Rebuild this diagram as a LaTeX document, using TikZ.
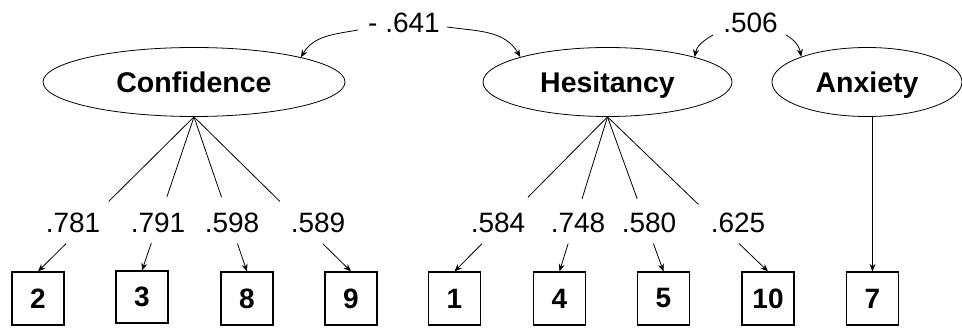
\documentclass[tikz,border=0pt]{standalone}
\usepackage{fontspec}
\setmainfont{Liberation Sans}
\usetikzlibrary{shapes.geometric,arrows.meta,calc}
\begin{document}
\begin{tikzpicture}[x=1pt,y=1pt,
  latent/.style={ellipse,draw,line width=0.8pt,inner sep=0pt,minimum height=69pt,text height=20.5pt,text depth=0pt,font=\fontsize{28.5}{30}\selectfont\bfseries},
  obs/.style={rectangle,draw,line width=1.1pt,inner sep=0pt,minimum width=52pt,minimum height=53pt,font=\fontsize{28}{30}\selectfont\bfseries},
  lbl/.style={inner sep=0pt,font=\fontsize{28}{30}\selectfont},
  ln/.style={line width=0.8pt},
  arr/.style={line width=0.8pt,-{Stealth[length=7.5pt,width=6pt]}}]
\useasboundingbox (0,0) rectangle (962,329);
% latent variables
\node[latent,minimum width=302pt] (conf) at (194,247) {Confidence};
\node[latent,minimum width=249pt] (hes) at (607.5,247) {Hesitancy};
\node[latent,minimum width=190pt] (anx) at (867,247) {Anxiety};
% observed items
\node[obs] (b2) at (38,30.5) {2};
\node[obs,minimum height=52pt] (b3) at (142,32) {3};
\node[obs] (b8) at (247,30.5) {8};
\node[obs] (b9) at (351,30.5) {9};
\node[obs] (b1) at (454.5,30.5) {1};
\node[obs] (b4) at (559.5,30.5) {4};
\node[obs] (b5) at (663.5,30.5) {5};
\node[obs] (b10) at (768,30.5) {10};
\node[obs] (b7) at (872.5,30.5) {7};
% loading labels
\node[lbl] (l2) at (73,106) {.781};
\node[lbl] (l3) at (158,106) {.791};
\node[lbl] (l8) at (232,106) {.598};
\node[lbl] (l9) at (318,106) {.589};
\node[lbl] (l1) at (498,106) {.584};
\node[lbl] (l4) at (578,106) {.748};
\node[lbl] (l5) at (649,106) {.580};
\node[lbl] (l10) at (738,106) {.625};
% loadings (line broken by the label)
\foreach \lat/\bx/\fa in {conf/b2/0.547, conf/b3/0.52, conf/b8/0.52, conf/b9/0.547,
                          hes/b1/0.52, hes/b4/0.53, hes/b5/0.53, hes/b10/0.566}{
  \draw[ln] (\lat.south) -- ($(\lat.south)!\fa!(\bx.north)$);
  \draw[arr] ($(\lat.south)!0.82!(\bx.north)$) -- (\bx.north);
}
\draw[arr] (b7.north |- anx.south) -- (b7.north);
% correlations
\node[lbl] (n641) at (404,306) {- .641};
\node[lbl] (n506) at (750.5,306) {.506};
\coordinate (c641l) at (358,299);
\coordinate (c641r) at (447,302);
\coordinate (c506l) at (713,294);
\coordinate (c506r) at (786,294);
\draw[arr] (c641l) to[out=190,in=60] (conf.13);
\draw[arr] (c641r) to[out=-8,in=120] (hes.164);
\draw[arr] (c506l) to[out=210,in=80] (hes.16);
\draw[arr] (c506r) to[out=-30,in=100] (anx.159);
\end{tikzpicture}
\end{document}
